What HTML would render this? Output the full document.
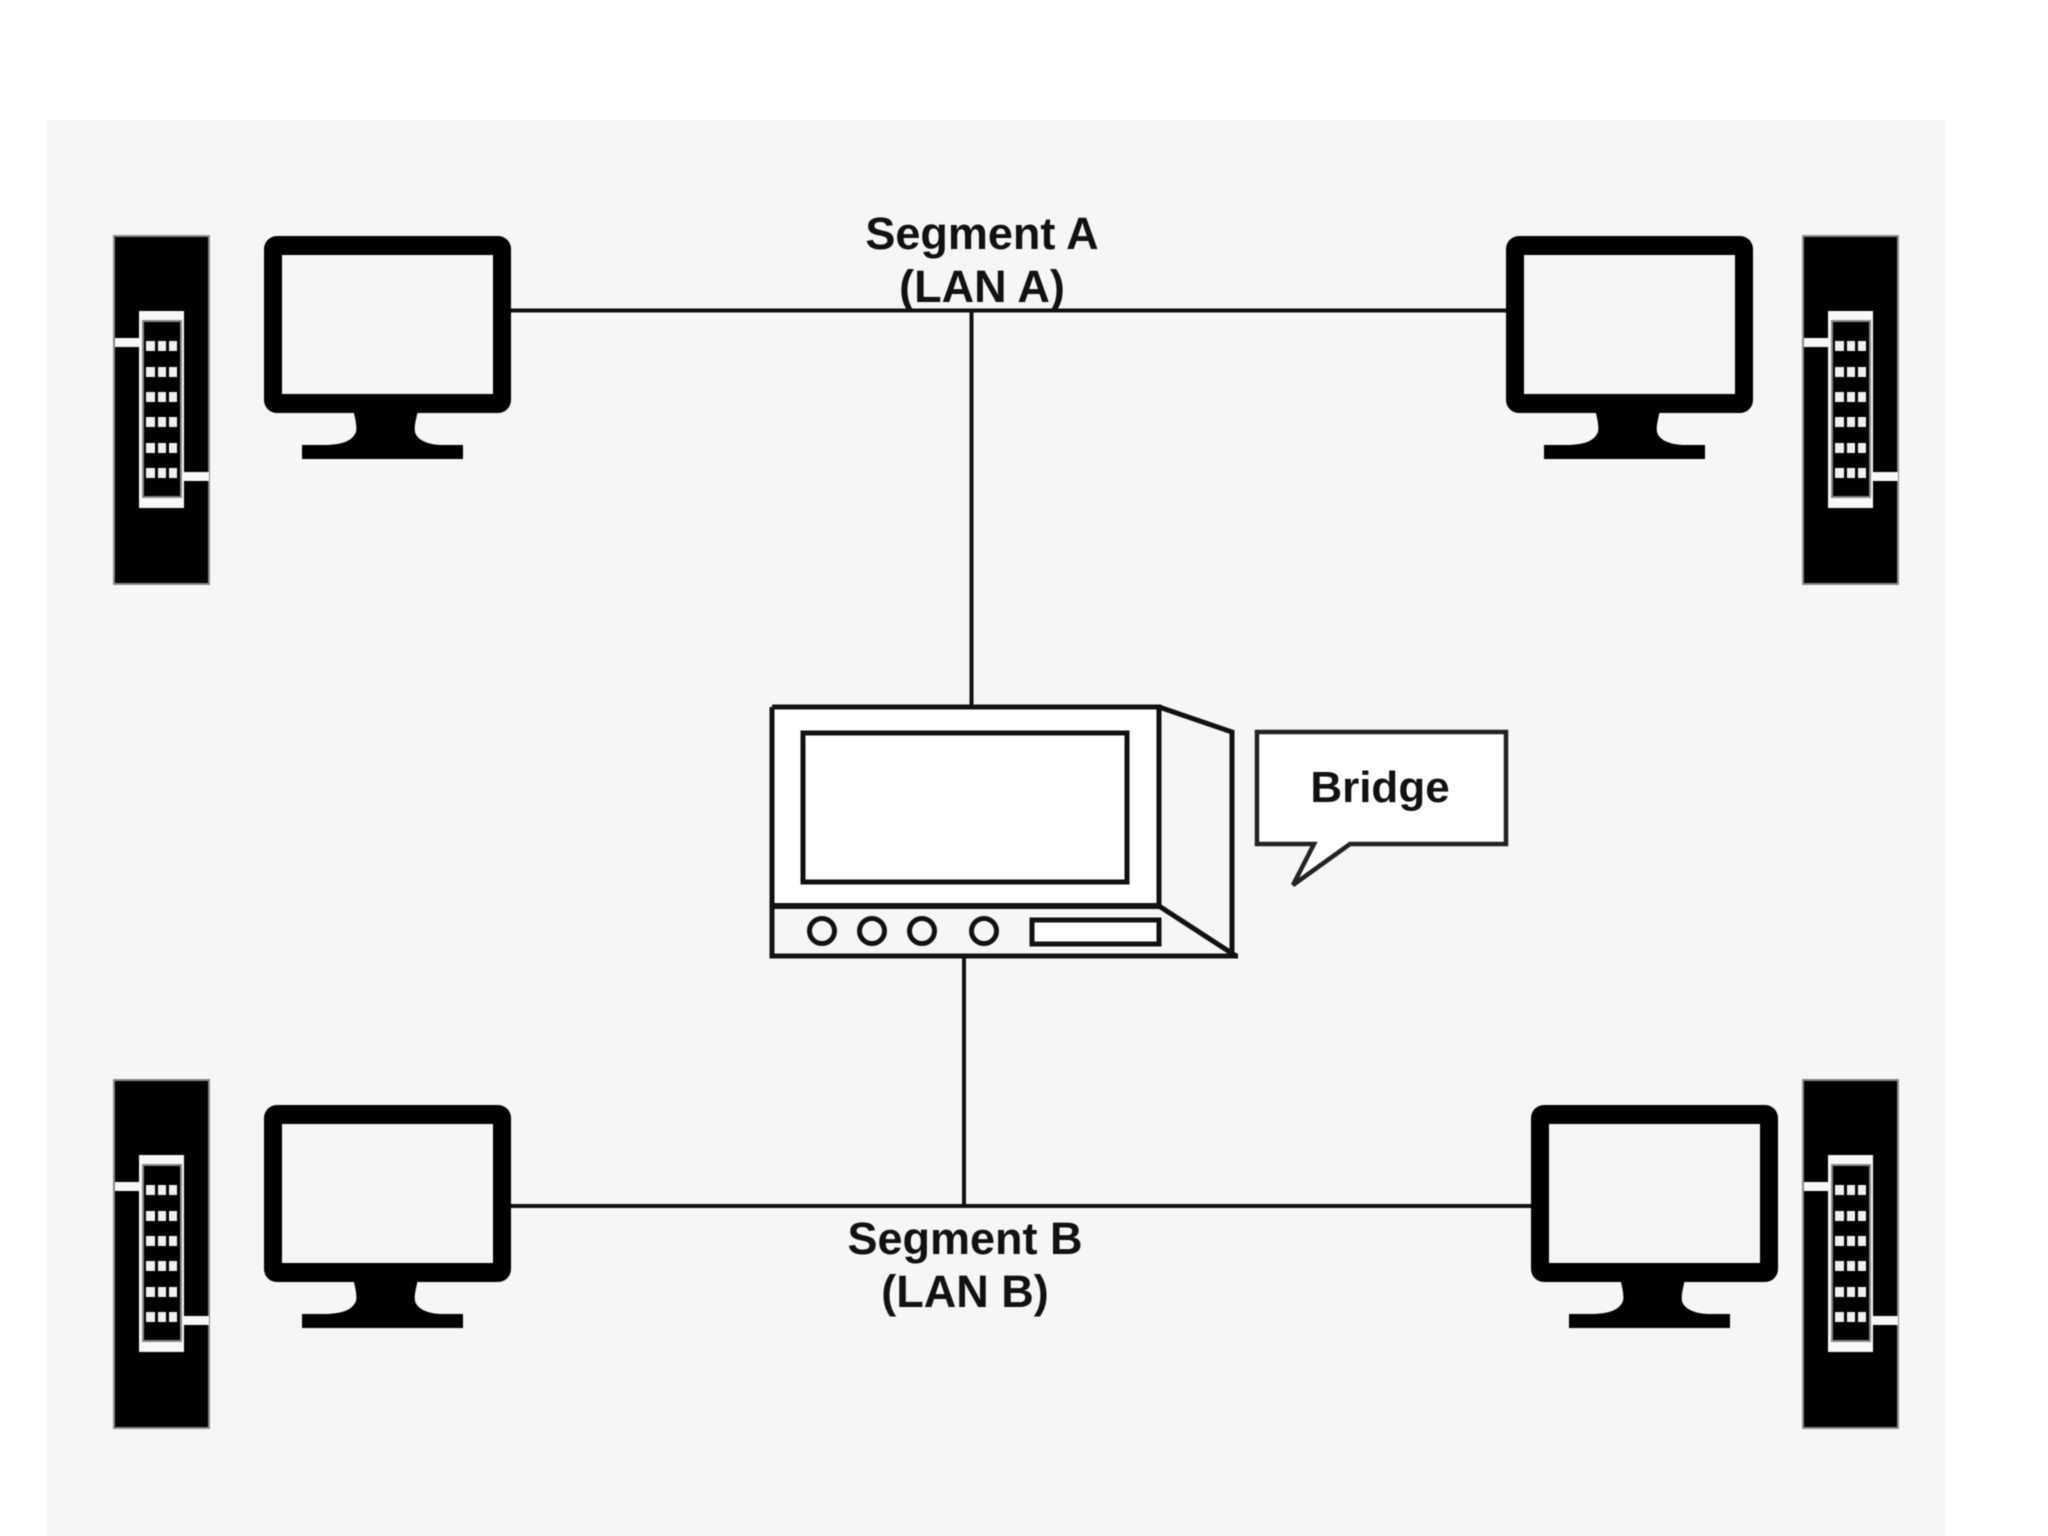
<!DOCTYPE html>
<html>
<head>
<meta charset="utf-8">
<style>
html,body{margin:0;padding:0;background:#fff;width:2048px;height:1536px;overflow:hidden}
svg{display:block;filter:blur(0.6px)}
text{font-family:"Liberation Sans",sans-serif;font-weight:bold;font-size:45px;fill:#111;text-anchor:middle}
</style>
</head>
<body>
<svg width="2048" height="1536" viewBox="0 0 2048 1536" xmlns="http://www.w3.org/2000/svg">
<defs>
<g id="tower">
  <rect x="114" y="236" width="95" height="348" fill="#000" stroke="#888" stroke-width="2"/>
  <rect x="139" y="311" width="45" height="197" fill="#f8f8f8"/>
  <rect x="143" y="321" width="38" height="176" fill="#000" stroke="#888" stroke-width="2"/>
  <rect x="115" y="338" width="24" height="9" fill="#f8f8f8"/>
  <rect x="184" y="472" width="25" height="9" fill="#f8f8f8"/>
  <g fill="#f0f0f0">
    <rect x="146" y="341" width="9" height="10"/><rect x="158" y="341" width="8" height="10"/><rect x="169" y="341" width="8" height="10"/>
    <rect x="146" y="367" width="9" height="10"/><rect x="158" y="367" width="8" height="10"/><rect x="169" y="367" width="8" height="10"/>
    <rect x="146" y="392" width="9" height="10"/><rect x="158" y="392" width="8" height="10"/><rect x="169" y="392" width="8" height="10"/>
    <rect x="146" y="417" width="9" height="10"/><rect x="158" y="417" width="8" height="10"/><rect x="169" y="417" width="8" height="10"/>
    <rect x="146" y="443" width="9" height="10"/><rect x="158" y="443" width="8" height="10"/><rect x="169" y="443" width="8" height="10"/>
    <rect x="146" y="468" width="9" height="10"/><rect x="158" y="468" width="8" height="10"/><rect x="169" y="468" width="8" height="10"/>
  </g>
</g>
<g id="monitor">
  <rect x="264" y="236" width="247" height="177" rx="13" fill="#000"/>
  <rect x="282" y="255" width="211" height="139" fill="#f6f6f6"/>
  <path d="M353 410 C356 420 357 428 356 432 C352 442 340 445 323 445 L302 445 L302 459 L463 459 L463 445 L443 445 C428 445 417 440 415 432 C414 426 416 420 418 410 Z" fill="#000"/>
</g>
</defs>

<rect x="47" y="120" width="1898" height="1416" fill="#f6f6f6"/>

<!-- connectors -->
<g stroke="#111" stroke-width="4" fill="none">
  <line x1="510" y1="310.500" x2="1508" y2="310.500"/>
  <line x1="971.500" y1="310" x2="971.500" y2="708"/>
  <line x1="510" y1="1206" x2="1534" y2="1206"/>
  <line x1="964" y1="955" x2="964" y2="1206"/>
</g>

<!-- towers -->
<use href="#tower"/>
<use href="#tower" transform="translate(1689,0)"/>
<use href="#tower" transform="translate(0,844)"/>
<use href="#tower" transform="translate(1689,844)"/>

<!-- monitors -->
<use href="#monitor"/>
<use href="#monitor" transform="translate(1242,0)"/>
<use href="#monitor" transform="translate(0,869)"/>
<use href="#monitor" transform="translate(1267,869)"/>

<!-- bridge -->
<rect x="772" y="707" width="387" height="199" fill="#fff"/>
<g stroke="#111" stroke-width="5" fill="none">
  <path d="M772 707 H1159 V906"/>
  <path d="M772 707 V956 H1238"/>
  <path d="M1159 707 L1232 732 V956"/>
  <path d="M1159 906 L1236 956"/>
  <line x1="772" y1="906" x2="1159" y2="906" stroke-width="6"/>
  <rect x="803" y="733" width="324" height="149" stroke-width="5"/>
  <rect x="1032" y="920" width="127" height="24" fill="#fff"/>
  <circle cx="822" cy="931" r="12.500"/>
  <circle cx="872" cy="931" r="12.500"/>
  <circle cx="922" cy="931" r="12.500"/>
  <circle cx="984" cy="931" r="12.500"/>
</g>

<!-- callout -->
<path d="M1257 732 H1506 V844 H1350 L1293 885 L1314 844 H1257 Z" fill="#fff" stroke="#222" stroke-width="4.500"/>

<!-- labels -->
<text x="982" y="249">Segment A</text>
<text x="982" y="302">(LAN A)</text>
<text x="965" y="1254">Segment B</text>
<text x="965" y="1307">(LAN B)</text>
<text x="1380" y="802" style="font-size:44px">Bridge</text>
</svg>
</body>
</html>
